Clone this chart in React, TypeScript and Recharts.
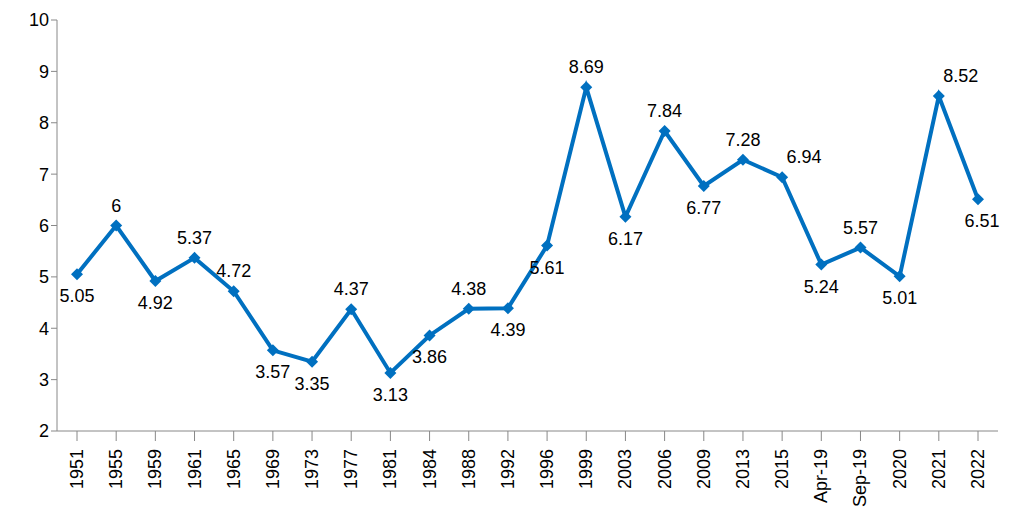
import { LineChart, Line, XAxis, YAxis, LabelList } from 'recharts';

const years = ['1951','1955','1959','1961','1965','1969','1973','1977','1981','1984','1988','1992','1996','1999','2003','2006','2009','2013','2015','Apr-19','Sep-19','2020','2021','2022'];
const values = [5.05,6,4.92,5.37,4.72,3.57,3.35,4.37,3.13,3.86,4.38,4.39,5.61,8.69,6.17,7.84,6.77,7.28,6.94,5.24,5.57,5.01,8.52,6.51];
// 'a' = label above, 'b' = below
const labelPos = ['b','a','b','a','a','b','b','a','b','b','a','b','b','a','b','a','b','a','a','b','a','b','a','b'];

const data = years.map((y, i) => ({ year: y, value: values[i], pos: labelPos[i] }));
const blue = '#0070C0';

const Diamond = (props: any) => {
  const { cx, cy } = props;
  return <path d={`M${cx},${cy - 6}L${cx + 6},${cy}L${cx},${cy + 6}L${cx - 6},${cy}Z`} fill={blue} />;
};

const PointLabel = (props: any) => {
  const { x, y, value, index } = props;
  const above = labelPos[index] === 'a';
  const shift = index === 18 || index === 22 ? 22 : index === 23 ? 4 : 0;
  return (
    <text x={x + shift} y={above ? y - 14 : y + 28} textAnchor="middle" fontSize={18} fill="#000">
      {value}
    </text>
  );
};

const XTick = (props: any) => {
  const { x, y, payload } = props;
  return (
    <text x={x} y={y + 6} transform={`rotate(-90 ${x} ${y + 6})`} textAnchor="end" dominantBaseline="central" fontSize={18} fill="#000">
      {payload.value}
    </text>
  );
};

export default function App() {
  return (
    <div style={{ margin: -8, fontFamily: 'Liberation Sans, Arial, sans-serif' }}>
      <LineChart width={1013} height={522} data={data} margin={{ top: 20, right: 15, left: 0, bottom: 0 }}>
        <XAxis dataKey="year" interval={0} height={91} tick={<XTick />} stroke="#888" tickSize={10} padding={{ left: 20, right: 20 }} />
        <YAxis domain={[2, 10]} ticks={[2,3,4,5,6,7,8,9,10]} width={57} stroke="#888" tick={{ fontSize: 18, fill: '#000' }} />
        <Line dataKey="value" stroke={blue} strokeWidth={4} dot={<Diamond />} activeDot={false} isAnimationActive={false}>
          <LabelList dataKey="value" content={<PointLabel />} />
        </Line>
      </LineChart>
    </div>
  );
}
